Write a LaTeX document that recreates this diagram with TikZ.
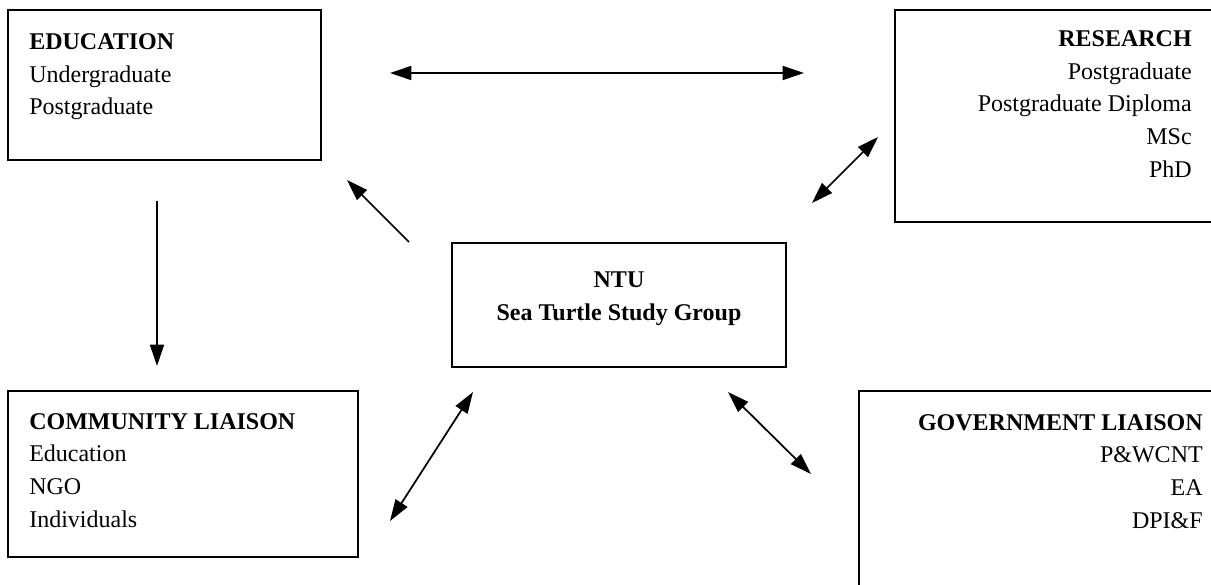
\documentclass[tikz,border=0pt]{standalone}
\usepackage{fontspec}
\setmainfont{Liberation Serif}
\usetikzlibrary{arrows.meta,fit}

\begin{document}
\begin{tikzpicture}[x=0.75pt, y=-0.75pt,
  box/.style={draw=black, line width=1.3pt, inner sep=0pt},
  txt/.style={inner sep=0pt, font=\fontsize{18}{24.5}\selectfont},
  link/.style={line width=1.3pt, -{Triangle[length=16pt,width=10.5pt]}},
  twoway/.style={line width=1.3pt, {Triangle[length=16pt,width=10.5pt]}-{Triangle[length=16pt,width=10.5pt]}},
  ]
  \useasboundingbox (0,0) rectangle (1211,585);
  \clip (0,0) rectangle (1211,585);

  %%% boxes %%%
  \node[box, fit={(8,10) (321,160)}]    (edu) {};
  \node[box, fit={(895,10) (1214,222)}] (res) {};
  \node[box, fit={(452,243) (786,367)}] (ntu) {};
  \node[box, fit={(8,391) (358,557)}]   (com) {};
  \node[box, fit={(859,391) (1214,590)}] (gov) {};

  %%% box texts (anchored at the baseline of the last line) %%%
  \node[txt, anchor=base west, align=left] (edutxt) at (29,115)
    {\textbf{EDUCATION}\\Undergraduate\\Postgraduate};
  \node[txt, anchor=base east, align=right] (restxt) at (1192,177)
    {\textbf{RESEARCH}\\Postgraduate\\Postgraduate Diploma\\MSc\\PhD};
  \node[txt, anchor=base, align=center, font=\fontsize{18}{24.5}\selectfont\bfseries] (ntutxt) at (619,320)
    {NTU\\Sea Turtle Study Group};
  \node[txt, anchor=base west, align=left] (comtxt) at (29,527)
    {\textbf{COMMUNITY LIAISON}\\Education\\NGO\\Individuals};
  \node[txt, anchor=base east, align=right] (govtxt) at (1203,528)
    {\textbf{GOVERNMENT LIAISON}\\P\&WCNT\\EA\\DPI\&F};

  %%% arrow ends %%%
  \coordinate (eduR) at (390,73);   \coordinate (resL) at (804,73);
  \coordinate (eduB) at (157,201);  \coordinate (comT) at (157,366);
  \coordinate (ntuNW) at (409,242); \coordinate (eduSE) at (347,180);
  \coordinate (ntuNE) at (812,203); \coordinate (resSW) at (878,137);
  \coordinate (ntuSW) at (473,392); \coordinate (comNE) at (390,521);
  \coordinate (ntuSE) at (728,392); \coordinate (govNW) at (811,474);

  %%% arrows %%%
  \draw[twoway] (eduR) -- (resL);
  \draw[link]   (eduB) -- (comT);
  \draw[link]   (ntuNW) -- (eduSE);
  \draw[twoway] (ntuNE) -- (resSW);
  \draw[twoway] (ntuSW) -- (comNE);
  \draw[twoway] (ntuSE) -- (govNW);
\end{tikzpicture}
\end{document}
